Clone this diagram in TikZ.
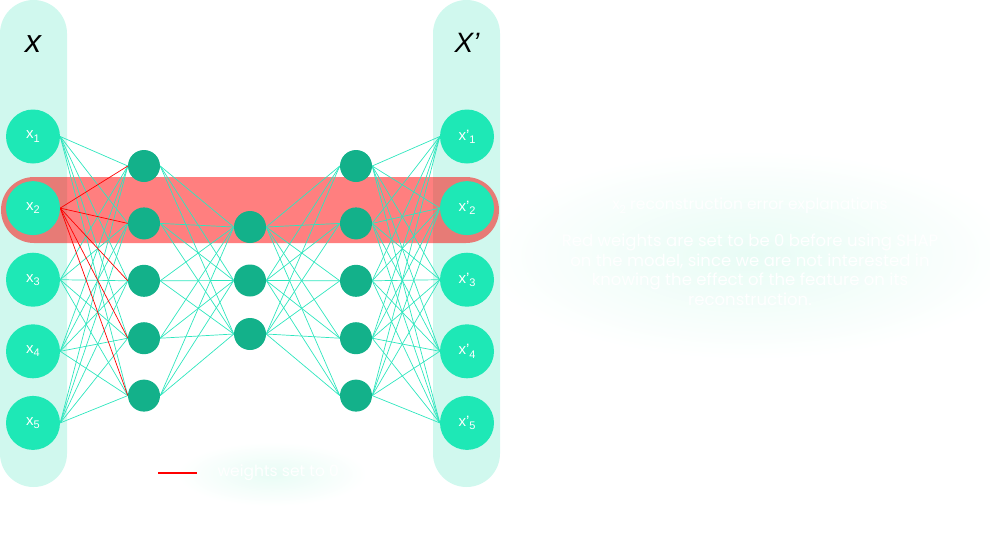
\documentclass[tikz,border=0pt]{standalone}
\usepackage{fontspec}
\setmainfont{Liberation Sans}
\newfontfamily\popp{Poppins}
\definecolor{pillc}{HTML}{D0F8EE}
\definecolor{nodein}{HTML}{1EE8B6}
\definecolor{nodehid}{HTML}{13B18A}
\definecolor{edgec}{HTML}{2EE6BE}
\definecolor{glowc}{HTML}{E8FCF5}
\pgfdeclarelayer{pills}
\pgfdeclarelayer{band}
\pgfdeclarelayer{edges}
\pgfsetlayers{pills,band,edges,main}
\begin{document}
\begin{tikzpicture}[x=1pt,y=-1pt,
  innode/.style={circle, fill=nodein, minimum size=54pt, inner sep=0pt, text=white, font=\fontsize{15}{15}\selectfont},
  hidnode/.style={circle, fill=nodehid, minimum size=32pt, inner sep=0pt},
  edge/.style={draw=edgec, line width=0.7pt},
  redge/.style={draw=red, line width=0.7pt},
  pill/.style={fill=pillc, rounded corners=33.5pt},
  glow/.style={inner color=glowc, outer color=white},
  whitetext/.style={text=white, align=center}]
\useasboundingbox (0,0) rectangle (990,539);
\newcommand{\lsub}[1]{\raisebox{-0.4ex}{\fontsize{11}{11}\selectfont #1}}
\newcommand{\tsub}[1]{\raisebox{-0.4ex}{\fontsize{11}{11}\selectfont #1}}
% glows and pills
\begin{pgfonlayer}{pills}
\shade[glow] (750,255) ellipse [x radius=270pt, y radius=105pt];
\shade[glow] (272,474) ellipse [x radius=95pt, y radius=32pt];
\fill[pill] (0,0) rectangle (67,487);
\fill[pill] (433,0) rectangle (500,487);
\end{pgfonlayer}
\begin{pgfonlayer}{band}
\fill[red, opacity=0.5, rounded corners=33pt] (1,177) rectangle (499,243);
\end{pgfonlayer}
% titles
\node[anchor=base, font=\fontsize{32}{32}\selectfont\itshape] (tx) at (33,52) {x};
\node[anchor=base, font=\fontsize{28}{28}\selectfont\itshape] (txp) at (467,52) {X\textquoteright};
% input and output nodes
\foreach \k/\yy in {1/136.5,2/208.1,3/279.7,4/351.3,5/422.9}{
  \node[innode] (i\k) at (33,\yy) {x\lsub{\k}};
  \node[innode] (o\k) at (467,\yy) {x\textquoteright\lsub{\k}};
}
\foreach \k/\yy in {1/166,2/223.4,3/280.8,4/338.2,5/395.6}{
  \node[hidnode] (a\k) at (144,\yy) {};
  \node[hidnode] (c\k) at (356,\yy) {};
}
\foreach \k/\yy in {1/227,2/280.5,3/334}{
  \node[hidnode] (b\k) at (250,\yy) {};
}
\begin{pgfonlayer}{edges}
\foreach \i in {1,3,4,5}{\foreach \j in {1,...,5}{\draw[edge] (i\i.east) -- (a\j.west);}}
\foreach \i in {1,...,5}{\foreach \j in {1,...,3}{\draw[edge] (a\i.east) -- (b\j.west);}}
\foreach \i in {1,...,3}{\foreach \j in {1,...,5}{\draw[edge] (b\i.east) -- (c\j.west);}}
\foreach \i in {1,...,5}{\foreach \j in {1,...,5}{\draw[edge] (c\i.east) -- (o\j.west);}}
\foreach \j in {1,...,5}{\draw[redge] (i2.east) -- (a\j.west);}
\end{pgfonlayer}
% legend
\coordinate (l1) at (158,473);
\coordinate (l2) at (197,473);
\draw[red, line width=2pt] (l1) -- (l2);
\node[whitetext, anchor=west, font=\popp\fontsize{15.5}{15.5}\selectfont] (lt) at (214,473) {weights set to 0};
% explanation text
\node[whitetext, font=\popp\fontsize{15.5}{15.5}\selectfont] (title) at (750,206) {x\tsub{2} reconstruction error explanations};
\node[whitetext, font=\popp\fontsize{16.5}{19.5}\selectfont] (body) at (750,270) {Red weights are set to be 0 before using SHAP\\on the model, since we are not interested in\\knowing the effect of the feature on its\\reconstruction.};
\end{tikzpicture}
\end{document}
